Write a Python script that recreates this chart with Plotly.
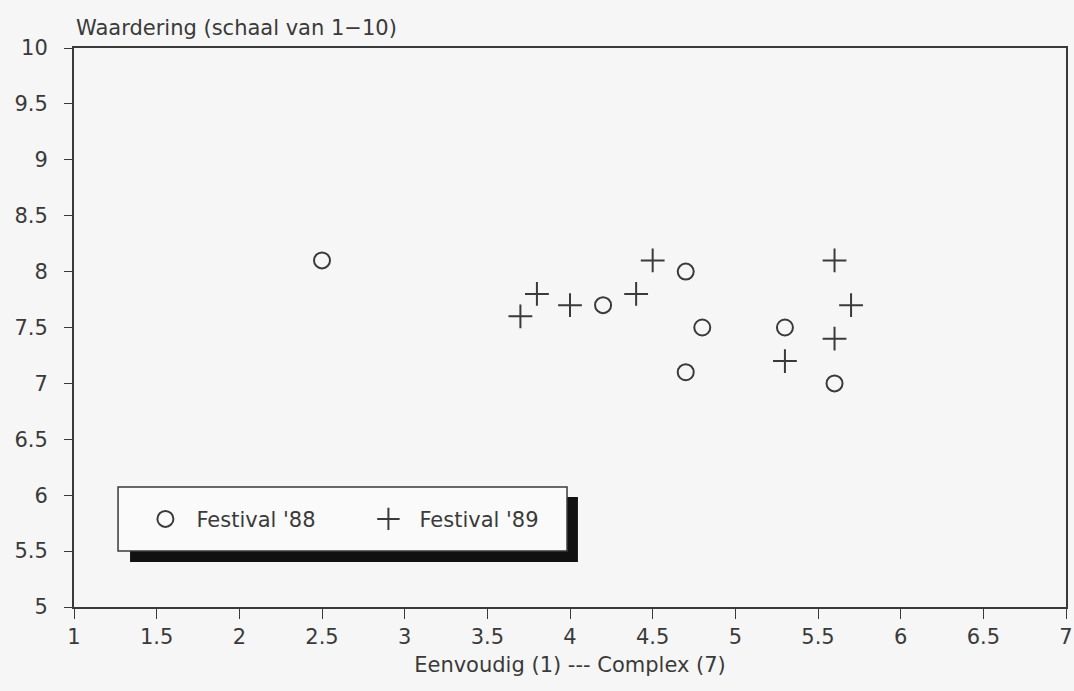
import plotly.graph_objects as go

# Data
fest88_x = [2.5, 4.2, 4.7, 4.8, 4.7, 5.3, 5.6]
fest88_y = [8.1, 7.7, 8.0, 7.5, 7.1, 7.5, 7.0]
fest89_x = [3.7, 3.8, 4.0, 4.4, 4.5, 5.3, 5.6, 5.7, 5.6]
fest89_y = [7.6, 7.8, 7.7, 7.8, 8.1, 7.2, 8.1, 7.7, 7.4]
x_ticks = [1, 1.5, 2, 2.5, 3, 3.5, 4, 4.5, 5, 5.5, 6, 6.5, 7]
y_ticks = [5, 5.5, 6, 6.5, 7, 7.5, 8, 8.5, 9, 9.5, 10]

ink = "#3a3a3a"
bg = "#f6f6f6"
font_family = "'DejaVu Sans', sans-serif"
fs_tick = 21
fs_text = 21

fig = go.Figure()
fig.add_trace(go.Scatter(
    x=fest88_x, y=fest88_y, mode="markers", name="Festival '88",
    marker=dict(symbol="circle-open", size=16, color=ink, line=dict(width=2, color=ink)),
))
fig.add_trace(go.Scatter(
    x=fest89_x, y=fest89_y, mode="markers", name="Festival '89",
    marker=dict(symbol="cross-thin-open", size=17, color=ink, line=dict(width=2, color=ink)),
))

# legend box + shadow
fig.add_shape(type="rect", xref="paper", yref="paper",
              x0=0.0565, x1=0.508, y0=0.0805, y1=0.197,
              fillcolor="#111111", line=dict(width=0), layer="below")
fig.add_shape(type="rect", xref="paper", yref="paper",
              x0=0.0444, x1=0.497, y0=0.1002, y1=0.2147,
              fillcolor="#fafafa", line=dict(width=1.5, color=ink), layer="below")

fig.add_annotation(text="Waardering (schaal van 1\u221210)", xref="paper", yref="paper",
                   x=0.0, y=1.0, xanchor="left", yanchor="bottom", yshift=6,
                   showarrow=False, font=dict(size=fs_text, color=ink, family=font_family))

fig.update_layout(
    width=1074, height=691,
    margin=dict(l=74, r=8, t=48, b=84),
    paper_bgcolor=bg, plot_bgcolor=bg,
    font=dict(family=font_family, size=fs_tick, color=ink),
    showlegend=True,
    legend=dict(orientation="h", x=0.0609, y=0.157, xanchor="left", yanchor="middle",
                bgcolor="rgba(0,0,0,0)", borderwidth=0,
                itemwidth=52,
                entrywidth=156, entrywidthmode="pixels",
                font=dict(size=fs_text, color=ink, family=font_family)),
    xaxis=dict(range=[1, 7], tickvals=x_ticks, ticktext=[f"{v:g}" for v in x_ticks],
               automargin=False, tickfont=dict(size=fs_tick),
               showgrid=False, zeroline=False, showline=True, linecolor=ink, linewidth=2,
               mirror=True, ticks="outside", ticklen=10, tickwidth=1, tickcolor=ink,
               title=dict(text="Eenvoudig (1) --- Complex (7)", standoff=9,
                          font=dict(size=fs_text, color=ink, family=font_family))),
    yaxis=dict(range=[5, 10], tickvals=y_ticks, ticktext=[f"{v:g}" for v in y_ticks],
               automargin=False, tickfont=dict(size=fs_tick), ticklabelstandoff=12,
               showgrid=False, zeroline=False, showline=True, linecolor=ink, linewidth=2,
               mirror=True, ticks="outside", ticklen=8, tickwidth=1, tickcolor=ink),
)

fig.write_html("out.html", config={"displayModeBar": False},
               post_script="document.body.style.margin='0';document.body.style.background='#f6f6f6';")
